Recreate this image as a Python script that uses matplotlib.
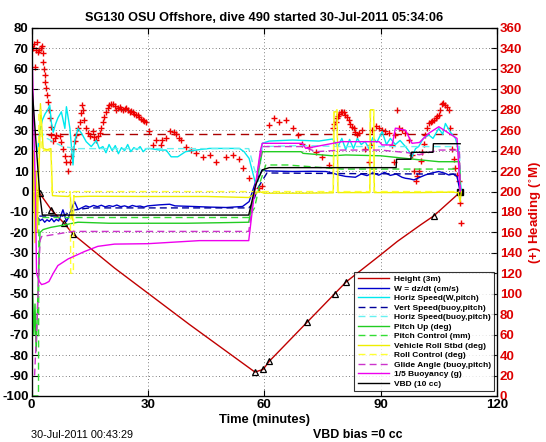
import matplotlib
matplotlib.use("Agg")
import matplotlib.pyplot as plt

plt.rcParams['font.family'] = ['Liberation Sans', 'DejaVu Sans']
plt.rcParams['axes.unicode_minus'] = False

# ---------------- data ----------------
height_t = [1.5, 2.1, 5.1, 8.4, 10.7, 21.4, 40.7, 57.6, 59.7, 61.3, 71.1, 78.2, 81.1, 89.5, 94.3, 100.3, 103.7, 110.5]
height_v = [0.5, -0.8, -8.9, -15.5, -20.8, -37.4, -65, -88.3, -87, -83, -63.8, -49.9, -44.2, -31.7, -24.4, -16.3, -11.9, -0.3]
height_marks = [1, 2, 3, 4, 7, 8, 9, 10, 11, 12, 16]

heading_t = [
    0.4, 0.7, 0.9, 1.1, 1.3, 1.6, 2.0, 2.4, 2.6, 2.9,
    3.0, 3.2, 3.4, 3.6, 3.8, 4.1, 4.3, 4.5, 4.7, 4.9,
    5.1, 5.6, 6.0, 6.4, 7.3, 7.7, 8.1, 8.6, 9.0, 9.4,
    9.9, 10.3, 10.7, 11.2, 11.6, 12.0, 12.4, 12.7, 12.9, 13.2,
    13.6, 14.1, 14.5, 15.0, 15.8, 16.2, 16.7, 17.2, 17.6, 18.0,
    18.4, 18.8, 19.3, 19.7, 20.1, 20.5, 21.0, 21.4, 21.9, 22.3,
    22.7, 23.1, 23.6, 24.0, 24.4, 24.8, 25.3, 25.7, 26.1, 26.5,
    27.0, 27.4, 27.8, 28.3, 28.7, 29.1, 29.6, 30.4, 31.3, 32.1,
    33.4, 33.7, 34.7, 35.6, 36.8, 37.3, 38.1, 38.6, 39.7, 41.1,
    42.4, 44.1, 45.9, 47.6, 50.2, 51.9, 53.6, 54.4, 56.1, 58.7,
    59.5, 61.3, 62.6, 63.8, 65.6, 67.3, 68.6, 69.8, 71.6, 73.3,
    75.0, 76.7, 77.8, 78.1, 78.4, 78.7, 79.0, 79.3, 79.7, 80.1,
    80.5, 80.9, 81.3, 81.8, 82.2, 82.6, 83.1, 83.5, 84.0, 84.4,
    85.3, 86.1, 87.0, 87.4, 87.8, 88.7, 89.5, 90.4, 91.2, 92.1,
    93.0, 93.4, 93.8, 94.2, 94.7, 95.5, 96.4, 97.2, 98.1, 98.6,
    99.0, 99.4, 99.8, 100.3, 100.7, 101.1, 101.5, 102.0, 102.4, 102.9,
    103.3, 103.7, 104.2, 104.6, 105.0, 105.4, 105.8, 106.2, 106.7, 107.1,
    107.6, 108.0, 108.4, 108.9, 109.3, 109.7, 110.1, 110.5, 110.8]
heading_v = [
    340, 344, 322, 338, 346, 337, 338, 340, 342, 336,
    327, 320, 314, 307, 301, 294, 288, 280, 272, 263,
    255, 249, 252, 255, 254, 248, 242, 235, 229, 220,
    229, 235, 242, 249, 255, 262, 268, 277, 285, 280,
    270, 262, 257, 254, 259, 253, 250, 254, 257, 262,
    268, 273, 278, 282, 285, 286, 286, 284, 280, 282,
    283, 281, 280, 281, 282, 280, 278, 279, 278, 276,
    275, 275, 273, 271, 270, 269, 268, 259, 246, 250,
    246, 250, 252, 259, 258, 256, 252, 250, 244, 241,
    238, 234, 236, 229, 234, 236, 232, 223, 213, 203,
    205, 265, 272, 268, 270, 262, 255, 247, 244, 239,
    234, 226, 262, 266, 268, 272, 274, 276, 278, 278,
    278, 275, 273, 270, 266, 263, 262, 258, 255, 257,
    260, 242, 229, 246, 260, 264, 262, 260, 259, 257,
    246, 229, 255, 280, 262, 260, 257, 250, 236, 220,
    210, 215, 220, 230, 239, 247, 255, 262, 267, 268,
    269, 270, 272, 274, 275, 280, 286, 287, 285, 283,
    280, 262, 242, 232, 223, 216, 210, 189, 169]
heading_target_t = [0, 110.5]
heading_target_v = [256, 256]

w_t = [1.7, 2.2, 2.8, 3.4, 4.0, 4.6, 5.2, 5.8, 6.4, 7.0, 7.6, 8.1, 8.6, 9.0, 9.6, 10.2, 11.1, 12.0, 13.0, 14.0,
       15.0, 16.0, 17.0, 18.0, 19.0, 20.0, 21.0, 22.0, 23.0, 24.0, 25.0, 26.0, 27.0, 28.0, 29.0, 30.0, 33.0,
       35.6, 37.0, 41.6, 46, 50.2, 54.4, 56.1, 57.8, 59.5, 60.4, 63, 67.3, 72, 75.9, 77.6, 79, 81, 83.5, 85,
       86.5, 88, 89.5, 91, 92.5, 94, 95.5, 96.4, 97.5, 98.6, 100, 101.5, 103, 105, 106.5, 107.6, 108.7, 109.7, 110.5]
w_v = [-12.9, -14.2, -13.5, -15.0, -13.8, -14.6, -13.2, -14.8, -13.6, -14.4, -11.5, -8.9, -12.0, -14.6, -12.5,
       -9.0, -4.9, -8.8, -7.9, -7.0, -7.6, -6.8, -7.4, -6.7, -7.5, -6.9, -7.3, -6.6, -7.4, -7.0, -7.6, -6.8,
       -7.3, -7.1, -7.6, -7.0, -6.5, -6.2, -7.0, -7.3, -7.6, -7.8, -7.3, -4.9, 4.9, 10.6, 10.1, 10.0, 9.8, 9.9,
       9.8, 9.1, 8.2, 7.4, 7.0, 8.6, 7.8, 9.2, 8.0, 9.4, 7.9, 8.6, 7.0, 6.5, 6.2, 5.7, 6.9, 8.1, 9.0, 9.8, 9.0,
       8.1, 8.6, 7.3, 0]

vs_t = [2, 8, 11, 15, 56, 57, 58.3, 60.7, 80, 110.3, 110.6]
vs_v = [-12, -12, -9, -8, -8, -6, 1.6, 9.1, 8.8, 8.5, 0]

hw_t = [1.6, 2.1, 2.8, 3.5, 4.2, 4.7, 5.1, 5.6, 6.2, 6.8, 7.7, 8.6, 9.0, 9.9, 10.7, 11.1, 12.0, 12.9, 14.1,
        15.4, 16.7, 17.5, 18.4, 19.2, 20, 20.8, 21.6, 22.4, 23.2, 24, 24.8, 25.6, 26.4, 27.2, 28, 28.8, 29.6,
        30.4, 33, 34.7, 36, 37.7, 39.7, 42.4, 45.9, 50.2, 53.6, 54.8, 56.1, 57.4, 57.8, 58.7, 59.5, 61.3, 67.3,
        74.1, 77.6, 79, 80, 81, 82, 83, 84, 85, 86, 87, 88, 89, 90.4, 91.5, 92.5, 93.8, 95, 96.4, 97.2, 98.1,
        99, 99.8, 101, 102.4, 103.5, 105, 106, 106.7, 108, 109.3, 110.1, 110.5, 110.8]
hw_v = [20, 29.3, 35, 38, 40, 42.3, 34, 29, 33, 36, 39, 30.9, 41.5, 30.9, 13, 24.4, 30.9, 28.5, 24.4,
        22, 25, 21, 22, 19, 23, 20, 22.5, 18.5, 21.5, 20, 23, 19.5, 21.5, 20.5, 22, 19.5, 21,
        21.1, 20.3, 20.3, 17, 17, 19.5, 20.3, 21.1, 21.1, 21.1, 19.5, 16.2, 6.5, 3.3, 14.6, 23.6, 24.7, 25.2,
        24.7, 25.7, 22, 26, 20.5, 25.5, 21, 26, 23, 24.5, 21, 26.5, 24, 29.3, 23, 26, 23, 25, 22, 20, 17,
        21, 22, 26, 27.7, 26, 30.9, 28, 33.3, 29, 26, 20, 6.5, 0]

hb_t = [2, 4, 8, 12, 56, 57.3, 58.5, 59.5, 70, 80, 110.3, 110.6]
hb_v = [30, 26, 22, 21, 21, 12, 5, 22, 22.5, 22, 22, 0]

pu_t = [0.3, 0.6, 0.9, 1.2, 1.5, 1.8, 2.2, 3, 5, 8, 12, 20, 30, 40, 50, 56.0, 57.5, 59.0, 59.5, 69.5, 70,
        77.6, 81, 90, 95, 100.7, 105, 110.3, 110.6]
pu_v = [-50, -70, -55, -78, -60, -40, -20, -18.6, -17.5, -16.5, -15, -15.5, -15.5, -15.5, -15.2, -15, 0, 15,
        19.5, 19.5, 18.7, 17.5, 17.9, 17.5, 16.5, 15.4, 14.6, 14.6, 0]

pc_t = [0, 1.8, 1.9, 56, 57.5, 59, 60.4, 66, 80, 93, 110.3, 110.6]
pc_v = [-100, -100, -12.7, -12.7, -8, 5, 13, 13, 11, 11, 11, 0]

rs_t = [0, 0.3, 0.6, 0.9, 1.2, 1.5, 1.8, 2.1, 2.3, 3, 4, 5, 5.2, 5.4, 7, 9.5, 10.0, 10.3, 10.6, 10.9, 11.2,
        15, 30, 45, 56, 58.7, 60, 70, 77.8, 78.0, 78.8, 79.0, 85, 87.2, 87.4, 88.2, 88.4, 100, 108, 110.0,
        110.5, 110.8]
rs_v = [15, -10, 20, -25, 10, -20, 5, 21, 43, 21, 20.5, 21, 10, -2, -2.2, -2.4, -1.5, -12, -14, -2, -2.5,
        -2.3, -2.4, -2.4, -2.9, 0, -0.8, -0.8, -0.6, 39, 39, -0.5, -0.5, -0.5, 40, 40, -0.5, -0.5, -0.3,
        -0.5, -5, 0]

rc_t = [0, 1.8, 1.9, 2.4, 2.5, 5.1, 5.2, 10.0, 10.1, 10.8, 10.9, 77.8, 77.9, 78.8, 78.9, 87.2, 87.3, 88.2,
        88.3, 110.5]
rc_v = [0, 0, 40, 40, 20, 20, 0, 0, -40, -40, 0, 0, 40, 40, 0, 0, 40, 40, 0, 0]

ga_t = [0.8, 1.5, 2.2, 2.6, 10.7, 56, 57.5, 59.5, 70, 73.3, 80, 90, 97, 100, 105, 110.3, 110.6]
ga_v = [-90, -60, -24, -22, -19.5, -19.5, 0, 22, 22, 19.5, 20.3, 20.3, 19, 18, 20.3, 20.3, 0]

bu_t = [0, 0.5, 1.0, 1.3, 2.0, 2.6, 3.5, 4.5, 5.6, 6.8, 9.4, 13.7, 17.1, 21.4, 30, 43.3, 56.0, 57.5, 59.0,
        59.5, 69.8, 70.7, 80, 89.6, 90.4, 93.0, 93.8, 96.4, 98.1, 100, 102.4, 105, 107.6, 109.7, 110.5]
bu_v = [80, 40, 0, -40, -44, -45.5, -45, -44, -40, -36.2, -33, -29.3, -26.8, -25.7, -25.5, -24, -24, 0, 20,
        23.6, 23.6, 21.1, 24.4, 24.4, 22.8, 22.8, 31, 30, 23.6, 24, 28.5, 31.7, 28.5, 26, 0]

vbd_t = [0, 2.1, 2.8, 56.0, 57.8, 59.5, 61.3, 94.0, 94.1, 97.8, 97.9, 103.5, 103.6, 110.5]
vbd_v = [55, -1, -11.5, -11.5, 3.3, 10.6, 11.7, 11.7, 15.8, 15.8, 19.2, 19.2, 23.4, 23.4]

legend_labels = ['Height (3m)', 'W = dz/dt (cm/s)', 'Horiz Speed(W,pitch)', 'Vert Speed(buoy,pitch)',
                 'Horiz Speed(buoy,pitch)', 'Pitch Up (deg)', 'Pitch Control (mm)', 'Vehicle Roll Stbd (deg)',
                 'Roll Control (deg)', 'Glide Angle (buoy,pitch)', '1/5 Buoyancy (g)', 'VBD (10 cc)']

x_ticks = [0, 30, 60, 90, 120]
left_ticks = list(range(-100, 81, 10))
right_ticks = list(range(0, 361, 20))

# ---------------- figure ----------------
W, H = 546, 442
fig = plt.figure(figsize=(W / 100, H / 100), dpi=100)
L, R, T, B = 31.5, 497, 28, 396
ax = fig.add_axes([L / W, 1 - B / H, (R - L) / W, (B - T) / H])
ax2 = ax.twinx()
ax.set_zorder(ax2.get_zorder() + 1)
ax.patch.set_visible(False)

RED = '#dd0000'
lw = 1.0
h1, = ax.plot(height_t, height_v, color='#c00000', lw=lw)
ax.plot(height_t, height_v, ls='none', marker='^', mfc='none', mec='black', ms=5, mew=0.9,
        markevery=height_marks)
ax.plot(height_t[-1:], height_v[-1:], ls='none', marker='s', color='black', ms=5)
h2, = ax.plot(w_t, w_v, color='#0000cc', lw=lw)
h3, = ax.plot(hw_t, hw_v, color='#00e8ee', lw=lw)
h4, = ax.plot(vs_t, vs_v, color='#000099', lw=lw, ls=(0, (5, 3)))
h5, = ax.plot(hb_t, hb_v, color='#66f0f0', lw=lw, ls=(0, (5, 3)))
h6, = ax.plot(pu_t, pu_v, color='#22cc22', lw=lw)
h7, = ax.plot(pc_t, pc_v, color='#33dd33', lw=lw, ls=(0, (5, 3)))
h8, = ax.plot(rs_t, rs_v, color='#eeee00', lw=lw)
h9, = ax.plot(rc_t, rc_v, color='#ffff33', lw=lw, ls=(0, (5, 3)))
h10, = ax.plot(ga_t, ga_v, color='#cc33cc', lw=lw, ls=(0, (5, 3)))
h11, = ax.plot(bu_t, bu_v, color='#ee00ee', lw=lw)
h12, = ax.plot(vbd_t, vbd_v, color='black', lw=lw)

ax2.plot(heading_target_t, heading_target_v, color='#aa0000', lw=1.0, ls=(0, (6, 4)))
ax2.plot(heading_t, heading_v, ls='none', marker='+', color='#ee0000', ms=4, mew=1.0)

ax.set_xlim(0, 120)
ax.set_ylim(-100, 80)
ax2.set_ylim(0, 360)
ax.set_xticks(x_ticks)
ax.set_yticks(left_ticks)
ax2.set_yticks(right_ticks)

for a in (ax, ax2):
    a.tick_params(direction='in', length=4, width=0.8, labelsize=9.5, pad=2)
    for lab in a.get_xticklabels() + a.get_yticklabels():
        lab.set_fontweight('bold')
ax.tick_params(top=True, right=False)
for lab in ax2.get_yticklabels():
    lab.set_color(RED)
    lab.set_fontweight('bold')

ax.grid(True, color='#555555', ls=(0, (1, 3)), lw=0.6)
for s in ax.spines.values():
    s.set_linewidth(0.9)

ax.set_title('SG130 OSU Offshore, dive 490 started 30-Jul-2011 05:34:06', fontsize=9.2,
             fontweight='bold', pad=5)
ax.set_xlabel('Time (minutes)', fontsize=9.3, fontweight='bold', labelpad=2)
ax2.set_ylabel('(+) Heading ($^{\\circ}$M)', fontsize=9.5, fontweight='bold', color=RED, labelpad=4)

leg = ax.legend([h1, h2, h3, h4, h5, h6, h7, h8, h9, h10, h11, h12], legend_labels,
                loc='lower right', bbox_to_anchor=(494 / W, 1 - 391 / H),
                bbox_transform=fig.transFigure, borderaxespad=0,
                fontsize=6.0, frameon=True, fancybox=False, edgecolor='black',
                handlelength=3.8, labelspacing=0.2, borderpad=0.4, handletextpad=0.5)
leg.get_frame().set_linewidth(0.8)
for t in leg.get_texts():
    t.set_fontweight('bold')

fig.text(31 / W, 1 - 435 / H, '30-Jul-2011 00:43:29', fontsize=7.8, va='center', ha='left')
fig.text(313 / W, 1 - 435 / H, 'VBD bias =0 cc', fontsize=8.9, fontweight='bold', va='center', ha='left')

fig.savefig('out.png', dpi=100)
